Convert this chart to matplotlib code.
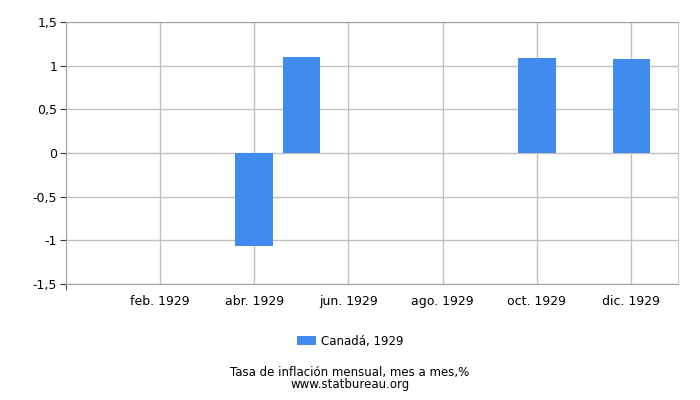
import numpy as np
import matplotlib
matplotlib.use('Agg')
import matplotlib.pyplot as plt

# monthly inflation, Canada 1929 (month over month, %)
months = ['ene.', 'feb.', 'mar.', 'abr.', 'may.', 'jun.', 'jul.', 'ago.', 'sep.', 'oct.', 'nov.', 'dic.']
values = [0, 0, 0, -1.07, 1.10, 0, 0, 0, 0, 1.09, 0, 1.08]
year = '1929'
series_name = 'Canadá, 1929'
y_ticks = [-1.5, -1, -0.5, 0, 0.5, 1, 1.5]
y_labels = ['-1,5', '-1', '-0,5', '0', '0,5', '1', '1,5']

bar_color = '#418bef'
grid_color = '#c0c0c0'

fig = plt.figure(figsize=(7, 4), dpi=100)
ax = fig.add_axes([0.0936, 0.291, 0.8754, 0.653])

x = np.arange(len(months))
ax.bar(x, values, width=0.79, color=bar_color, zorder=3, label=series_name)

ax.set_xlim(-1, 12)
ax.set_ylim(-1.5, 1.5)

# labelled months every second month, starting at feb
lab_idx = x[1::2]
ax.set_xticks(lab_idx)
ax.set_xticklabels([months[i] + ' ' + year for i in lab_idx], fontsize=9)
ax.tick_params(axis='x', length=0, pad=8)
ax.set_xticks([-1, 3, 5, 7, 9, 11], minor=True)
ax.tick_params(axis='x', which='minor', length=4, color='#333333')

ax.set_yticks(y_ticks)
ax.set_yticklabels(y_labels, fontsize=9)
ax.tick_params(axis='y', length=4, color='#333333', pad=2)

ax.grid(True, color=grid_color, linewidth=1, zorder=0)
for side in ['left', 'top', 'bottom']:
    ax.spines[side].set_color('#a0a0a0')
ax.spines['right'].set_color('#c8c8c8')

fig.legend(loc='center', bbox_to_anchor=(0.5, 0.147), frameon=False, fontsize=8.5,
           handlelength=1.6, handleheight=0.8, handletextpad=0.4)
fig.text(0.5, 0.061, 'Tasa de inflación mensual, mes a mes,%', ha='center', fontsize=8.5)
fig.text(0.5, 0.031, 'www.statbureau.org', ha='center', fontsize=8.5)

fig.savefig('out.png', dpi=100)
